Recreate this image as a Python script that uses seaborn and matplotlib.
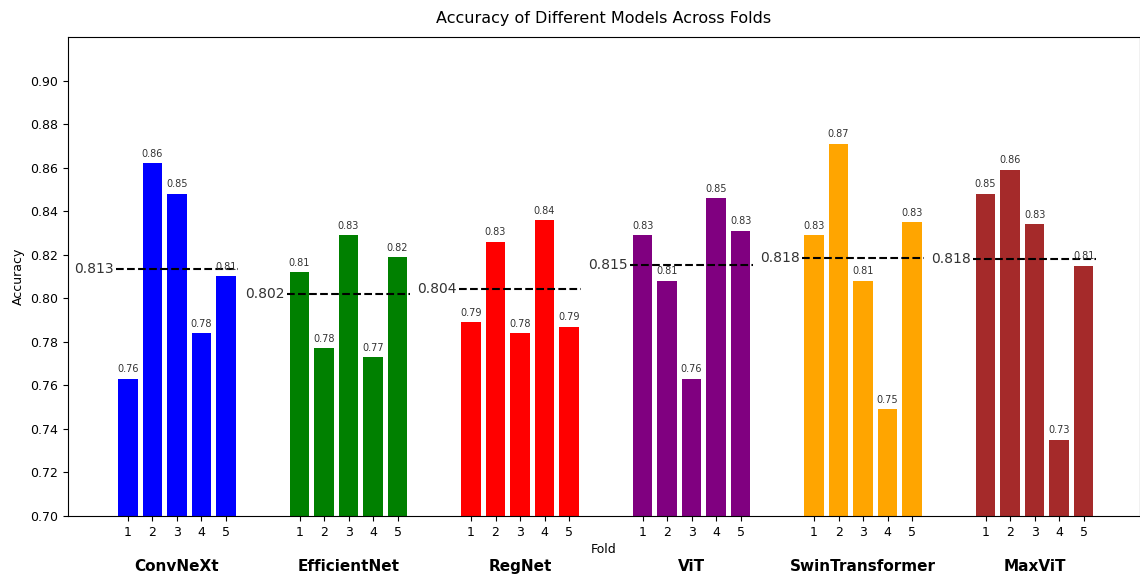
import numpy as np
import pandas as pd
import matplotlib
matplotlib.use("Agg")
import matplotlib.pyplot as plt
import seaborn as sns

models = ["ConvNeXt", "EfficientNet", "RegNet", "ViT", "SwinTransformer", "MaxViT"]
colors = ["blue", "green", "red", "purple", "orange", "brown"]
folds = [1, 2, 3, 4, 5]
convnext = [0.763, 0.862, 0.848, 0.784, 0.810]
efficientnet = [0.812, 0.777, 0.829, 0.773, 0.819]
regnet = [0.789, 0.826, 0.784, 0.836, 0.787]
vit = [0.829, 0.808, 0.763, 0.846, 0.831]
swin = [0.829, 0.871, 0.808, 0.749, 0.835]
maxvit = [0.848, 0.859, 0.834, 0.735, 0.815]
all_acc = [convnext, efficientnet, regnet, vit, swin, maxvit]
yticks = [0.70, 0.72, 0.74, 0.76, 0.78, 0.80, 0.82, 0.84, 0.86, 0.88, 0.90]

gap = 7
rows = []
for i, (m, accs) in enumerate(zip(models, all_acc)):
    for j, (f, a) in enumerate(zip(folds, accs)):
        rows.append({"pos": i * gap + j, "acc": a, "model": m, "fold": f})
df = pd.DataFrame(rows)

fig = plt.figure(figsize=(11.4, 5.75), dpi=100)
ax = fig.add_axes([0.0596, 0.1026, 0.9404, 0.8331])

sns.barplot(data=df, x="pos", y="acc", hue="model", palette=dict(zip(models, colors)),
            native_scale=True, width=0.8, dodge=False, legend=False, ax=ax,
            saturation=1, errorbar=None)

for p, a in zip(df["pos"], df["acc"]):
    ax.text(p, a + 0.002, f"{a:.2f}", ha="center", va="bottom", fontsize=7, color="#333333")

for i, accs in enumerate(all_acc):
    mean = float(np.mean(accs))
    x0 = i * gap - 0.5
    x1 = i * gap + 4.5
    ax.plot([x0, x1], [mean, mean], "k--", lw=1.5)
    ax.text(x0 - 0.1, mean, f"{mean:.3f}", ha="right", va="center", fontsize=10, color="#333333")
    ax.text(i * gap + 2, -0.105, models[i], transform=ax.get_xaxis_transform(),
            ha="center", va="center", fontsize=11, fontweight="bold")

ax.set_xticks(df["pos"].tolist())
ax.set_xticklabels([str(f) for f in df["fold"]], fontsize=9)
ax.set_yticks(yticks)
ax.set_yticklabels([f"{t:.2f}" for t in yticks], fontsize=9)
ax.set_ylim(0.70, 0.92)
ax.set_xlim(-2.45, 41.3)
ax.set_xlabel("Fold", fontsize=9, labelpad=3)
ax.set_ylabel("Accuracy", fontsize=9)
ax.set_title("Accuracy of Different Models Across Folds", fontsize=11.5, pad=10)

fig.savefig("out.png", dpi=100)
